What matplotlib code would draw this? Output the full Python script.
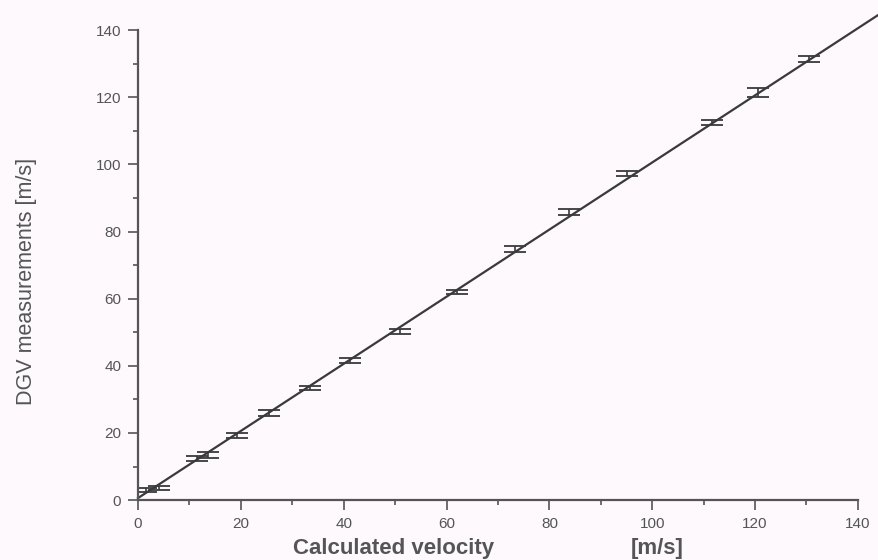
import matplotlib.pyplot as plt

plt.rcParams['font.family'] = ['Liberation Sans', 'DejaVu Sans']

# calculated velocity vs DGV measurement, both in m/s
calc_velocity = [1.5, 4.0, 11.5, 13.6, 19.3, 25.5, 33.5, 41.2, 51.0, 62.0,
                 73.3, 83.8, 95.1, 111.7, 120.6, 130.4]
dgv_measured = [3.0, 3.6, 12.4, 13.4, 19.3, 25.9, 33.4, 41.6, 50.3, 62.0,
                74.8, 85.8, 97.3, 112.5, 121.4, 131.4]
dgv_error = [0.6, 0.6, 0.8, 0.8, 0.7, 0.8, 0.7, 0.7, 0.7, 0.6,
             0.8, 0.8, 0.7, 0.8, 1.3, 1.0]

# fitted line
fit_x = [0.0, 144.0]
fit_y = [0.6, 144.6]

bg = '#fdf9fd'
fig = plt.figure(figsize=(8.79, 5.6), dpi=100, facecolor=bg)
ax = fig.add_axes([0.157, 0.107, 0.819, 0.839], facecolor=bg)

ax.plot(fit_x, fit_y, color='#3a3a3a', lw=1.6, clip_on=False)
ax.errorbar(calc_velocity, dgv_measured, yerr=dgv_error, fmt='none',
            ecolor='#3a3a3a', elinewidth=1.2, capsize=8, capthick=1.3)

ax.set_xlim(0, 140)
ax.set_ylim(0, 140)
ax.set_xticks(range(0, 141, 20))
ax.set_yticks(range(0, 141, 20))
ax.set_xticks(range(10, 140, 20), minor=True)
ax.set_yticks(range(10, 140, 20), minor=True)

for s in ['top', 'right']:
    ax.spines[s].set_visible(False)
for s in ['left', 'bottom']:
    ax.spines[s].set_color('#555555')
    ax.spines[s].set_linewidth(1.6)

ax.tick_params(which='major', direction='out', length=7, width=1.2,
               color='#555555', labelsize=11, labelcolor='#555555', pad=5)
ax.tick_params(which='minor', direction='out', length=3.5, width=1.2,
               color='#555555')

fig.text(0.030, 0.498, 'DGV measurements [m/s]', fontsize=15.5, color='#555555',
         rotation=90, ha='center', va='center')
fig.text(0.333, 0.010, 'Calculated velocity', fontsize=16, color='#555555',
         fontweight='bold', va='baseline')
fig.text(0.748, 0.010, '[m/s]', fontsize=16, color='#555555',
         fontweight='bold', ha='center', va='baseline')

fig.savefig('out.png', dpi=100, facecolor=bg)
